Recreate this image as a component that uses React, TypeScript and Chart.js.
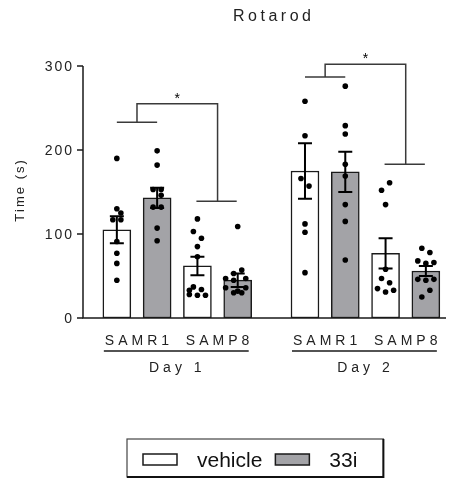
import React, { useEffect, useRef } from "react";
import { Chart, registerables } from "chart.js";

Chart.register(...registerables);

// ---------- data ----------
const chartTitle = "Rotarod";
const yTitle = "Time (s)";
const days = ["Day 1", "Day 2"];
const strains = ["SAMR1", "SAMP8"];
const treatments = ["vehicle", "33i"];
const yTicks = [0, 100, 200, 300];

// group order: Day1 SAMR1, Day1 SAMP8, Day2 SAMR1, Day2 SAMP8
const vehicleMean = [105, 62, 175, 77];
const vehicleSem = [16, 11, 33, 18];
const drugMean = [143, 45, 174, 56];
const drugSem = [12, 8, 24, 6];

// individual animals (values) and their horizontal jitter (tenths of a slot)
const vehD1R1 = [190, 130, 125, 117, 117, 91, 77, 65, 45];
const vehD1R1Jit = [0, 0, 1, -1, 1, 0, 0, 0, 0];
const drgD1R1 = [199, 182, 153, 153, 146, 132, 132, 107, 92];
const drgD1R1Jit = [0, 0, -1, 1, 1, -1, 1, 0, 0];
const vehD1P8 = [118, 103, 95, 85, 73, 37, 33, 34, 28, 27, 27];
const vehD1P8Jit = [0, -1, 1, 0, 0, -1, -2, 1, -2, 0, 2];
const drgD1P8 = [109, 57, 53, 47, 45, 47, 36, 36, 32, 30, 30];
const drgD1P8Jit = [0, 1, -1, -3, -1, 2, -3, 2, 0, -1, 1];
const vehD2R1 = [258, 217, 166, 157, 112, 102, 54];
const vehD2R1Jit = [0, 0, -1, 1, 0, 0, 0];
const drgD2R1 = [276, 229, 219, 183, 169, 135, 115, 69];
const drgD2R1Jit = [0, 0, 0, 0, 0, 0, 0, 0];
const vehD2P8 = [161, 152, 135, 58, 47, 42, 35, 31, 33];
const vehD2P8Jit = [1, -1, 0, 0, -1, 1, -2, 0, 2];
const drgD2P8 = [83, 78, 68, 65, 66, 46, 45, 46, 25, 33];
const drgD2P8Jit = [-1, 1, -2, 0, 2, -2, 0, 2, -1, 1];

const vehiclePoints = [vehD1R1, vehD1P8, vehD2R1, vehD2P8];
const vehicleJitter = [vehD1R1Jit, vehD1P8Jit, vehD2R1Jit, vehD2P8Jit];
const drugPoints = [drgD1R1, drgD1P8, drgD2R1, drgD2P8];
const drugJitter = [drgD1R1Jit, drgD1P8Jit, drgD2R1Jit, drgD2P8Jit];

// significance brackets per day: [SAMR1 pair line, top line, SAMP8 pair line]
const sigLevels = [
  [233, 255, 139],
  [287, 302, 183],
];
const sigLabels = ["*", "*"];

// ---------- layout (slot positions on the x scale) ----------
const dayStart = [1, 5.67];
const xMin = 0.16;
const xMax = 9.17;
const slot = (g: number, t: number) => dayStart[Math.floor(g / 2)] + (g % 2) * 2 + t;

const FONT = "'Liberation Sans', Arial, Helvetica, sans-serif";
const INK = "#1a1a1a";
const GRAY = "#a3a3a7";

function drawSpaced(
  ctx: CanvasRenderingContext2D,
  text: string,
  x: number,
  y: number,
  spacing: number,
  align: "left" | "center" | "right"
) {
  const chars = Array.from(text);
  const widths = chars.map((c) => ctx.measureText(c).width);
  const total = widths.reduce((a, b) => a + b, 0) + spacing * (chars.length - 1);
  let cx = align === "center" ? x - total / 2 : align === "right" ? x - total : x;
  ctx.save();
  ctx.textAlign = "left";
  chars.forEach((c, i) => {
    ctx.fillText(c, cx, y);
    cx += widths[i] + spacing;
  });
  ctx.restore();
  return total;
}

const decorPlugin = {
  id: "decor",
  afterDatasetsDraw(chart: any) {
    const ctx: CanvasRenderingContext2D = chart.ctx;
    const xs = chart.scales.x;
    const ys = chart.scales.y;
    const area = chart.chartArea;
    ctx.save();

    // error bars
    ctx.strokeStyle = "#000";
    ctx.lineWidth = 2;
    const drawErr = (x: number, m: number, s: number) => {
      const px = xs.getPixelForValue(x);
      const top = ys.getPixelForValue(m + s);
      const bot = ys.getPixelForValue(m - s);
      ctx.beginPath();
      ctx.moveTo(px, top);
      ctx.lineTo(px, bot);
      ctx.moveTo(px - 7, top);
      ctx.lineTo(px + 7, top);
      ctx.moveTo(px - 7, bot);
      ctx.lineTo(px + 7, bot);
      ctx.stroke();
    };
    vehicleMean.forEach((m, g) => drawErr(slot(g, 0), m, vehicleSem[g]));
    drugMean.forEach((m, g) => drawErr(slot(g, 1), m, drugSem[g]));

    // axes
    ctx.strokeStyle = INK;
    ctx.lineWidth = 1.5;
    ctx.beginPath();
    ctx.moveTo(area.left, ys.getPixelForValue(yTicks[yTicks.length - 1]));
    ctx.lineTo(area.left, area.bottom);
    ctx.lineTo(area.right, area.bottom);
    ctx.stroke();

    ctx.fillStyle = "#222";
    ctx.font = `14px ${FONT}`;
    ctx.textBaseline = "middle";
    yTicks.forEach((t) => {
      const py = ys.getPixelForValue(t);
      ctx.beginPath();
      ctx.moveTo(area.left - 6, py);
      ctx.lineTo(area.left, py);
      ctx.stroke();
      drawSpaced(ctx, String(t), area.left - 11, py + 1, 2, "right");
    });

    // y title
    ctx.save();
    ctx.translate(20, 191);
    ctx.rotate(-Math.PI / 2);
    ctx.font = `13px ${FONT}`;
    ctx.textBaseline = "middle";
    drawSpaced(ctx, yTitle, 0, 0, 2, "center");
    ctx.restore();

    // title
    ctx.font = `16px ${FONT}`;
    ctx.textBaseline = "alphabetic";
    drawSpaced(ctx, chartTitle, 272, 20.5, 3.5, "center");

    // category labels
    ctx.font = `14px ${FONT}`;
    days.forEach((d, di) => {
      strains.forEach((s, si) => {
        const g = di * 2 + si;
        const cx = (xs.getPixelForValue(slot(g, 0)) + xs.getPixelForValue(slot(g, 1))) / 2;
        drawSpaced(ctx, s, cx, 345, 4, "center");
      });
      const first = xs.getPixelForValue(slot(di * 2, 0));
      const last = xs.getPixelForValue(slot(di * 2 + 1, 1));
      ctx.beginPath();
      ctx.moveTo(first - 13, 351);
      ctx.lineTo(last + 11, 351);
      ctx.stroke();
      drawSpaced(ctx, d, (first + last) / 2 - 2, 372, 4, "center");
    });

    // significance brackets
    ctx.strokeStyle = "#3a3a3a";
    ctx.lineWidth = 1.5;
    sigLevels.forEach((lv, di) => {
      const a0 = xs.getPixelForValue(slot(di * 2, 0));
      const a1 = xs.getPixelForValue(slot(di * 2, 1));
      const b0 = xs.getPixelForValue(slot(di * 2 + 1, 0));
      const b1 = xs.getPixelForValue(slot(di * 2 + 1, 1));
      const am = (a0 + a1) / 2;
      const bm = (b0 + b1) / 2;
      const yA = ys.getPixelForValue(lv[0]);
      const yT = ys.getPixelForValue(lv[1]);
      const yB = ys.getPixelForValue(lv[2]);
      ctx.beginPath();
      ctx.moveTo(a0, yA);
      ctx.lineTo(a1, yA);
      ctx.moveTo(am, yA);
      ctx.lineTo(am, yT);
      ctx.lineTo(bm, yT);
      ctx.lineTo(bm, yB);
      ctx.moveTo(b0 - 1, yB);
      ctx.lineTo(b1 - 1, yB);
      ctx.stroke();
      ctx.fillStyle = "#000";
      ctx.font = `14px ${FONT}`;
      ctx.textAlign = "center";
      ctx.textBaseline = "alphabetic";
      ctx.fillText(sigLabels[di], (am + bm) / 2, yT - 1);
    });

    // legend
    ctx.font = `21px ${FONT}`;
    ctx.textBaseline = "alphabetic";
    ctx.textAlign = "left";
    const boxL = 127;
    const boxT = 439;
    const boxB = 477;
    const swW = 34;
    const swH = 11;
    const swY = 454;
    let x = 143;
    const items = [
      { label: treatments[0], fill: "#ffffff" },
      { label: treatments[1], fill: GRAY },
    ];
    items.forEach((it, i) => {
      ctx.fillStyle = it.fill;
      ctx.fillRect(x, swY, swW, swH);
      ctx.strokeStyle = INK;
      ctx.lineWidth = 1.5;
      ctx.strokeRect(x, swY, swW, swH);
      x += swW + 20;
      ctx.fillStyle = "#111";
      ctx.fillText(it.label, x, 467);
      x += ctx.measureText(it.label).width + (i === 0 ? 13 : 26);
    });
    const boxR = x;
    ctx.strokeStyle = "#444";
    ctx.lineWidth = 1.2;
    ctx.strokeRect(boxL, boxT, boxR - boxL, boxB - boxT);
    ctx.strokeStyle = "#111";
    ctx.lineWidth = 2;
    ctx.beginPath();
    ctx.moveTo(boxR, boxT);
    ctx.lineTo(boxR, boxB);
    ctx.lineTo(boxL, boxB);
    ctx.stroke();

    ctx.restore();
  },
};

export default function App() {
  const canvasRef = useRef<HTMLCanvasElement | null>(null);

  useEffect(() => {
    if (!canvasRef.current) return;
    const scatterData: { x: number; y: number }[] = [];
    vehiclePoints.forEach((arr, g) =>
      arr.forEach((v, i) => scatterData.push({ x: slot(g, 0) + vehicleJitter[g][i] * 0.1, y: v }))
    );
    drugPoints.forEach((arr, g) =>
      arr.forEach((v, i) => scatterData.push({ x: slot(g, 1) + drugJitter[g][i] * 0.1, y: v }))
    );

    const chart = new Chart(canvasRef.current, {
      type: "bar",
      data: {
        datasets: [
          {
            type: "scatter",
            label: "animals",
            data: scatterData,
            pointRadius: 2.8,
            pointBackgroundColor: "#000",
            pointBorderWidth: 0,
            order: 1,
          } as any,
          {
            label: treatments[0],
            data: vehicleMean.map((m, g) => ({ x: slot(g, 0), y: m })),
            backgroundColor: "#ffffff",
            borderColor: INK,
            borderWidth: 1.5,
            borderSkipped: false,
            barThickness: 28,
            grouped: false,
            order: 3,
          },
          {
            label: treatments[1],
            data: drugMean.map((m, g) => ({ x: slot(g, 1), y: m })),
            backgroundColor: GRAY,
            borderColor: INK,
            borderWidth: 1.5,
            borderSkipped: false,
            barThickness: 28,
            grouped: false,
            order: 3,
          },
        ] as any,
      },
      options: {
        animation: false,
        responsive: true,
        maintainAspectRatio: false,
        devicePixelRatio: 1,
        layout: { padding: { left: 83, right: 1, top: 66, bottom: 163 } },
        scales: {
          x: { type: "linear", min: xMin, max: xMax, offset: false, display: false },
          y: { min: 0, max: 300, display: false },
        },
        plugins: {
          legend: { display: false },
          tooltip: { enabled: false },
          title: { display: false },
        },
        events: [],
      } as any,
      plugins: [decorPlugin],
    });
    return () => chart.destroy();
  }, []);

  return (
    <div
      style={{
        position: "fixed",
        left: 0,
        top: 0,
        width: 450,
        height: 481,
        background: "#fff",
      }}
    >
      <canvas ref={canvasRef} />
    </div>
  );
}
